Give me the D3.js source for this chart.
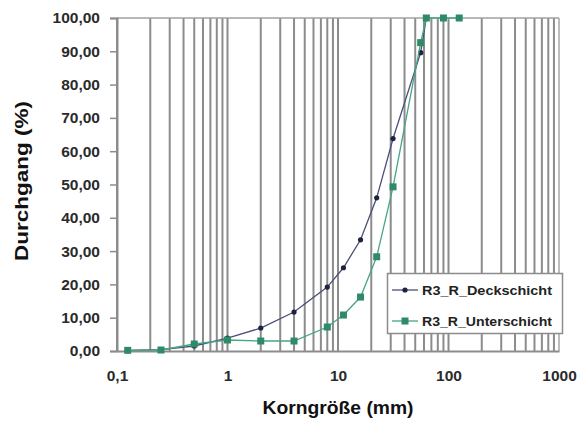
<!DOCTYPE html>
<html><head><meta charset="utf-8">
<script src="https://cdn.jsdelivr.net/npm/d3@7"></script>
<style>body{margin:0;background:#fff}svg{display:block}text{font-family:"Liberation Sans",Arial,sans-serif}</style>
</head><body><svg id="c" width="587" height="421"></svg>
<script>
const seriesNames = ["R3_R_Deckschicht", "R3_R_Unterschicht"];
const deckSizes = [0.125, 0.25, 0.5, 1, 2, 4, 8, 11.2, 16, 22.4, 31.5, 56, 63];
const deckValues = [0.2, 0.4, 1.5, 3.9, 6.9, 11.7, 19.2, 25.0, 33.4, 46.0, 63.8, 89.6, 100];
const unterSizes = [0.125, 0.25, 0.5, 1, 2, 4, 8, 11.2, 16, 22.4, 31.5, 56, 63, 90, 125];
const unterValues = [0.2, 0.3, 2.1, 3.3, 3.0, 3.0, 7.2, 10.8, 16.2, 28.3, 49.3, 92.6, 100, 100, 100];
const yTicks = [0, 10, 20, 30, 40, 50, 60, 70, 80, 90, 100];
const xTicks = [0.1, 1, 10, 100, 1000];
const xTickLabels = ["0,1", "1", "10", "100", "1000"];

const svg = d3.select("#c");
const x = d3.scaleLog().domain([0.1, 1000]).range([117, 559]);
const y = d3.scaleLinear().domain([0, 100]).range([351, 18]);

// vertical gridlines at every log minor tick
const grid = [];
for (let e = -1; e <= 2; e++) for (let k = 1; k <= 9; k++) grid.push(k * Math.pow(10, e));
grid.push(1000);
svg.append("g").selectAll("line").data(grid).join("line")
  .attr("x1", d => x(d)).attr("x2", d => x(d))
  .attr("y1", y(100)).attr("y2", y(0))
  .attr("stroke", d => d === 1000 ? "#bdbdbd" : "#8c8c8c").attr("stroke-width", 2);
svg.append("line").attr("x1", x(0.1)).attr("x2", x(1000)).attr("y1", y(100)).attr("y2", y(100))
  .attr("stroke", "#a0a0a0").attr("stroke-width", 1.5);

// y axis
const yAxis = d3.axisLeft(y).tickValues(yTicks).tickSize(7).tickPadding(10)
  .tickFormat(d => d3.format(".2f")(d).replace(".", ","));
const gy = svg.append("g").attr("transform", `translate(${x(0.1)},0)`).call(yAxis);
gy.select(".domain").attr("stroke", "#8c8c8c").attr("stroke-width", 2);
gy.selectAll(".tick line").attr("stroke", "#8c8c8c").attr("stroke-width", 1.5);
gy.selectAll("text").attr("font-size", 15.5).attr("font-weight", "bold").attr("fill", "#2a2a2a");

// x axis
const xAxis = d3.axisBottom(x).tickValues(xTicks).tickSize(0).tickPadding(19)
  .tickFormat((d, i) => xTickLabels[i]);
const gx = svg.append("g").attr("transform", `translate(0,${y(0)})`).call(xAxis);
gx.select(".domain").attr("stroke", "#8c8c8c").attr("stroke-width", 2);
gx.selectAll("text").attr("font-size", 15.5).attr("font-weight", "bold").attr("fill", "#2a2a2a");

// titles
svg.append("text").attr("x", 338).attr("y", 414).attr("text-anchor", "middle")
  .attr("font-size", 18).attr("font-weight", "bold").attr("fill", "#111")
  .attr("textLength", 151).attr("lengthAdjust", "spacingAndGlyphs").text("Korngröße (mm)");
svg.append("text").attr("transform", "translate(28,181) rotate(-90)").attr("text-anchor", "middle")
  .attr("font-size", 18).attr("font-weight", "bold").attr("fill", "#111")
  .attr("textLength", 160).attr("lengthAdjust", "spacingAndGlyphs").text("Durchgang (%)");

// series
const line = d3.line().x(d => x(d[0])).y(d => y(d[1]));
const deck = deckSizes.map((s, i) => [s, deckValues[i]]);
const unter = unterSizes.map((s, i) => [s, unterValues[i]]);
const cDeck = "#4b4f78", mDeck = "#1c2240";
const cUnter = "#46a585", mUnter = "#2f8a68";

svg.append("path").datum(deck).attr("d", line).attr("fill", "none").attr("stroke", cDeck).attr("stroke-width", 1.3);
svg.append("g").selectAll("circle").data(deck).join("circle")
  .attr("cx", d => x(d[0])).attr("cy", d => y(d[1])).attr("r", 2.6).attr("fill", mDeck);
svg.append("path").datum(unter).attr("d", line).attr("fill", "none").attr("stroke", cUnter).attr("stroke-width", 1.3);
svg.append("g").selectAll("rect").data(unter).join("rect")
  .attr("x", d => x(d[0]) - 3.5).attr("y", d => y(d[1]) - 3.5).attr("width", 7).attr("height", 7)
  .attr("fill", mUnter);

// legend
const lg = svg.append("g");
lg.append("rect").attr("x", 387.5).attr("y", 273.5).attr("width", 175).attr("height", 60)
  .attr("fill", "#fff").attr("stroke", "#8c8c8c").attr("stroke-width", 1.5);
const items = [{name: seriesNames[0], c: cDeck, m: mDeck, sq: false, yy: 290},
               {name: seriesNames[1], c: cUnter, m: mUnter, sq: true, yy: 321}];
items.forEach(it => {
  lg.append("line").attr("x1", 392).attr("x2", 418).attr("y1", it.yy).attr("y2", it.yy)
    .attr("stroke", it.c).attr("stroke-width", 1.3);
  if (it.sq) lg.append("rect").attr("x", 401.5).attr("y", it.yy - 3.5).attr("width", 7).attr("height", 7).attr("fill", it.m);
  else lg.append("circle").attr("cx", 405).attr("cy", it.yy).attr("r", 2.6).attr("fill", it.m);
  lg.append("text").attr("x", 422).attr("y", it.yy).attr("dy", "0.35em")
    .attr("font-size", 13.5).attr("font-weight", "bold").attr("fill", "#222")
    .attr("textLength", 130).attr("lengthAdjust", "spacingAndGlyphs").text(it.name);
});
</script></body></html>
